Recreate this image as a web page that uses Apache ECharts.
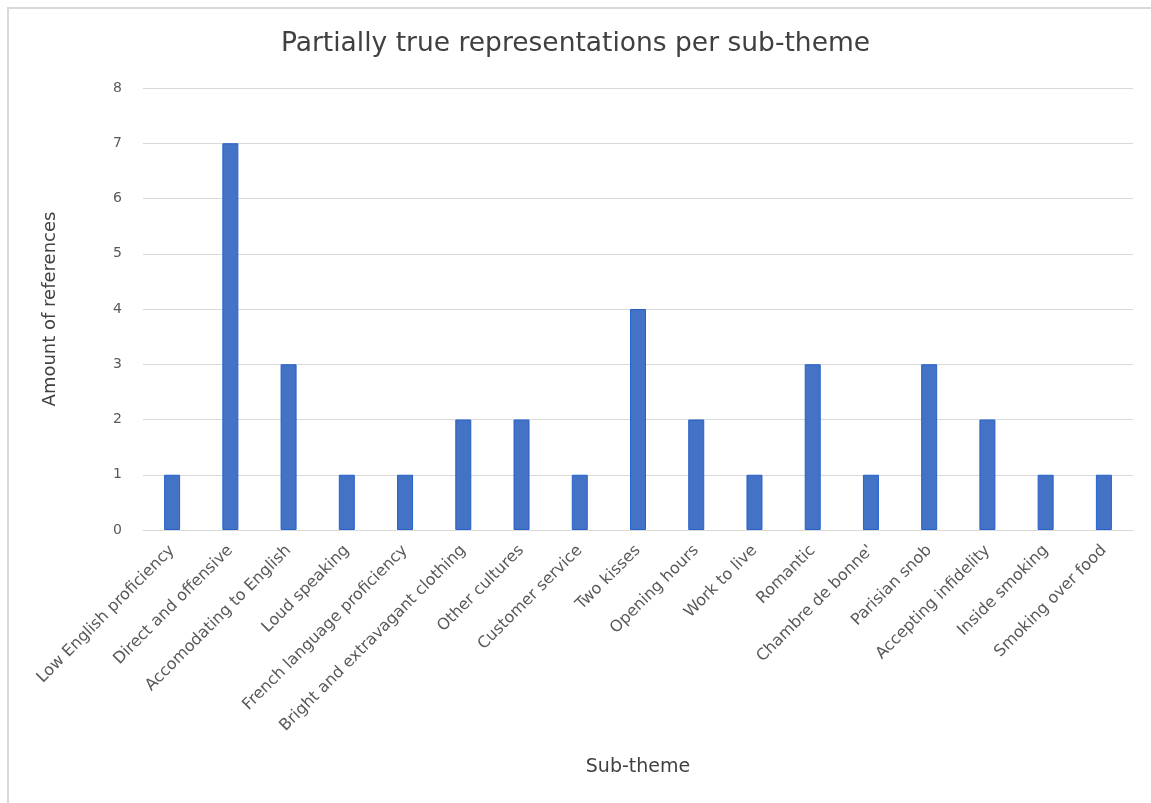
<!DOCTYPE html>
<html>
<head>
<meta charset="utf-8">
<script src="https://cdn.jsdelivr.net/npm/echarts@6/dist/echarts.min.js"></script>
<style>
html,body{margin:0;padding:0;background:#fff;}
#chart{width:1151px;height:803px;}
</style>
</head>
<body>
<div id="chart"></div>
<script>
const titleText = "Partially true representations per sub-theme";
const categories = [
  "Low English proficiency",
  "Direct and offensive",
  "Accomodating to English",
  "Loud speaking",
  "French language proficiency",
  "Bright and extravagant clothing",
  "Other cultures",
  "Customer service",
  "Two kisses",
  "Opening hours",
  "Work to live",
  "Romantic",
  "Chambre de bonne'",
  "Parisian snob",
  "Accepting infidelity",
  "Inside smoking",
  "Smoking over food"
];
const values = [1, 7, 3, 1, 1, 2, 2, 1, 4, 2, 1, 3, 1, 3, 2, 1, 1];
const yTicks = [0, 1, 2, 3, 4, 5, 6, 7, 8];
const xAxisName = "Sub-theme";
const yAxisName = "Amount of references";

const chart = echarts.init(document.getElementById('chart'), null, {renderer: 'canvas'});
const font = "'DejaVu Sans', 'Liberation Sans', sans-serif";
chart.setOption({
  animation: false,
  backgroundColor: '#ffffff',
  textStyle: {fontFamily: font},
  graphic: [{
    type: 'rect',
    shape: {x: 8, y: 8, width: 1200, height: 900},
    style: {fill: 'none', stroke: '#d9d9d9', lineWidth: 2},
    silent: true
  }],
  title: {
    text: titleText,
    left: 'center',
    top: 26,
    textStyle: {fontFamily: font, fontSize: 26.5, fontWeight: 'normal', color: '#404040'}
  },
  grid: {left: 143, right: 18, top: 88, bottom: 273, containLabel: false},
  xAxis: {
    type: 'category',
    data: categories,
    name: xAxisName,
    nameLocation: 'middle',
    nameGap: 228,
    nameTextStyle: {fontFamily: font, fontSize: 19, color: '#404040'},
    axisLine: {show: true, lineStyle: {color: '#d9d9d9', width: 1}},
    axisTick: {show: false},
    axisLabel: {
      rotate: 45,
      interval: 0,
      fontFamily: font,
      fontSize: 16,
      color: '#595959',
      margin: 18
    }
  },
  yAxis: {
    type: 'value',
    min: yTicks[0],
    max: yTicks[yTicks.length - 1],
    interval: 1,
    name: yAxisName,
    nameLocation: 'middle',
    nameGap: 84,
    nameTextStyle: {fontFamily: font, fontSize: 18, color: '#404040'},
    axisLine: {show: false},
    axisTick: {show: false},
    axisLabel: {fontFamily: font, fontSize: 14, color: '#595959', margin: 21},
    splitLine: {lineStyle: {color: '#d9d9d9', width: 1}}
  },
  series: [{
    type: 'bar',
    data: values,
    barWidth: 16,
    itemStyle: {color: '#4472C4', borderColor: '#2461CC', borderWidth: 1}
  }]
});
</script>
</body>
</html>
